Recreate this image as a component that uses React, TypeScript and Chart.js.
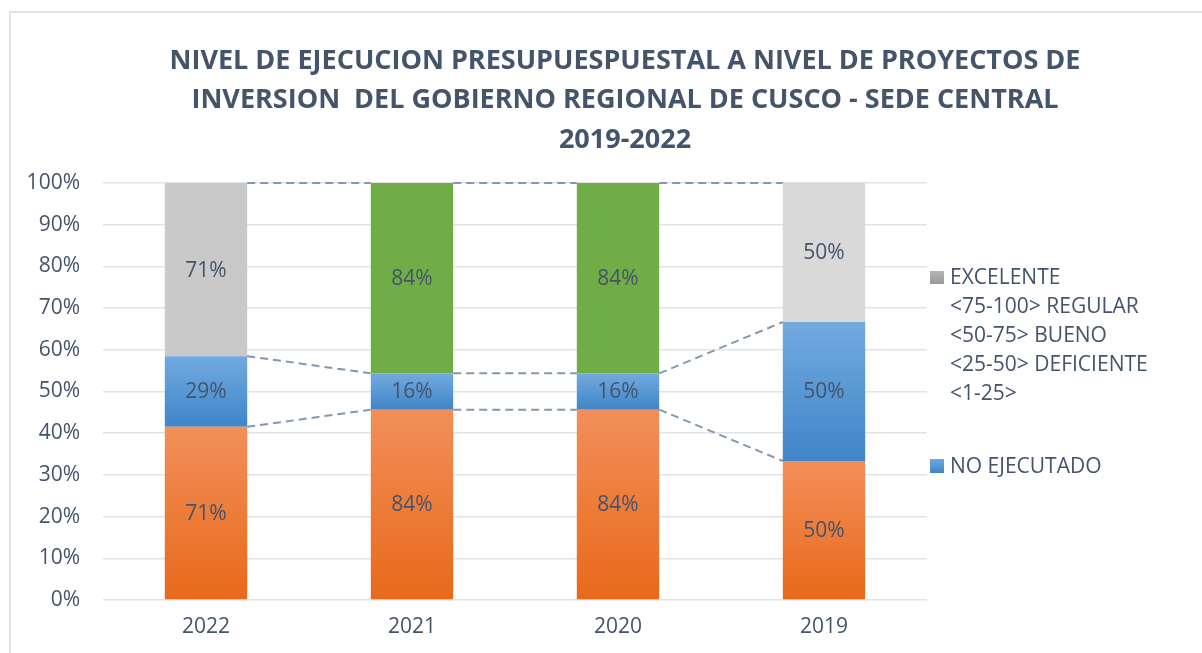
import React, { useEffect, useRef } from "react";
import { Chart, registerables } from "chart.js";

Chart.register(...registerables);

const categories = ["2022", "2021", "2020", "2019"];
const ejecutado = [71, 84, 84, 50];
const noEjecutado = [29, 16, 16, 50];
const calificacion = [71, 84, 84, 50];
const yTicks = [0, 10, 20, 30, 40, 50, 60, 70, 80, 90, 100];

const titleLines = [
  "NIVEL DE EJECUCION PRESUPUESPUESTAL A NIVEL DE PROYECTOS DE",
  "INVERSION  DEL GOBIERNO REGIONAL DE CUSCO - SEDE CENTRAL",
  "2019-2022",
];
const legendLines = ["EXCELENTE", "<75-100> REGULAR", "<50-75> BUENO", "<25-50> DEFICIENTE", "<1-25>"];
const legendNoEjecutado = "NO EJECUTADO";

const rawSeries = [ejecutado, noEjecutado, calificacion];
const totals = categories.map((_, i) => rawSeries.reduce((s, arr) => s + arr[i], 0));
const pctSeries = rawSeries.map((arr) => arr.map((v, i) => (v / totals[i]) * 100));

const TEXT = "#44546A";
const FONT = "'Open Sans'";

const segGradient = (top: string, bottom: string) => (ctx: any) => {
  const chart = ctx.chart;
  if (!chart.chartArea || ctx.type !== "data") return bottom;
  const di = ctx.datasetIndex;
  const i = ctx.dataIndex;
  let start = 0;
  for (let k = 0; k < di; k++) start += pctSeries[k][i];
  const end = start + pctSeries[di][i];
  const yTop = chart.scales.y.getPixelForValue(end);
  const yBot = chart.scales.y.getPixelForValue(start);
  const g = chart.ctx.createLinearGradient(0, yTop, 0, yBot);
  g.addColorStop(0, top);
  g.addColorStop(1, bottom);
  return g;
};

const seriesLinesPlugin = {
  id: "seriesLines",
  afterDatasetsDraw(chart: any) {
    const c = chart.ctx;
    c.save();
    c.strokeStyle = "#8497B0";
    c.lineWidth = 2;
    c.setLineDash([8, 5]);
    chart.data.datasets.forEach((_: any, di: number) => {
      const meta = chart.getDatasetMeta(di);
      for (let i = 0; i < meta.data.length - 1; i++) {
        const a = meta.data[i];
        const b = meta.data[i + 1];
        c.beginPath();
        c.moveTo(a.x + a.width / 2, a.y);
        c.lineTo(b.x - b.width / 2, b.y);
        c.stroke();
      }
    });
    c.restore();
  },
};

const labelsPlugin = {
  id: "segLabels",
  afterDatasetsDraw(chart: any) {
    const c = chart.ctx;
    c.save();
    c.fillStyle = TEXT;
    c.font = `21px ${FONT}`;
    c.textAlign = "center";
    c.textBaseline = "middle";
    chart.data.datasets.forEach((ds: any, di: number) => {
      const meta = chart.getDatasetMeta(di);
      meta.data.forEach((el: any, i: number) => {
        c.fillText(`${rawSeries[di][i]}%`, el.x, (el.y + el.base) / 2 + 1);
      });
    });
    c.restore();
  },
};

const titleLegendPlugin = {
  id: "titleLegend",
  afterDraw(chart: any) {
    const c = chart.ctx;
    c.save();
    c.fillStyle = TEXT;
    c.textAlign = "center";
    c.textBaseline = "alphabetic";
    c.font = `bold 27px ${FONT}`;
    const tb = [69, 108, 148];
    titleLines.forEach((t, k) => c.fillText(t, 625, tb[k]));

    c.textAlign = "left";
    c.font = `21px ${FONT}`;
    const lb = [284, 313, 342, 371, 400];
    legendLines.forEach((t, k) => c.fillText(t, 950, lb[k]));
    c.fillText(legendNoEjecutado, 950, 473);

    const gg = c.createLinearGradient(0, 271, 0, 284);
    gg.addColorStop(0, "#B5B5B5");
    gg.addColorStop(1, "#9A9A9A");
    c.fillStyle = gg;
    c.fillRect(930, 271, 14, 13);
    const bg = c.createLinearGradient(0, 459, 0, 473);
    bg.addColorStop(0, "#6FA8DC");
    bg.addColorStop(1, "#3F85C8");
    c.fillStyle = bg;
    c.fillRect(930, 459, 14, 14);
    c.restore();
  },
};

export default function App() {
  const ref = useRef<HTMLCanvasElement | null>(null);

  useEffect(() => {
    document.body.style.margin = "0";
    const canvas = ref.current;
    if (!canvas) return;
    const chart = new Chart(canvas, {
      type: "bar",
      data: {
        labels: categories,
        datasets: [
          {
            label: "EJECUTADO",
            data: pctSeries[0],
            backgroundColor: segGradient("#F28F5A", "#E8691A"),
            barPercentage: 0.4,
            categoryPercentage: 1,
          },
          {
            label: "NO EJECUTADO",
            data: pctSeries[1],
            backgroundColor: segGradient("#72AAE0", "#3F85C8"),
            barPercentage: 0.4,
            categoryPercentage: 1,
          },
          {
            label: "CALIFICACION",
            data: pctSeries[2],
            backgroundColor: ["#C9C9C9", "#70AD47", "#70AD47", "#D9D9D9"],
            barPercentage: 0.4,
            categoryPercentage: 1,
          },
        ],
      },
      options: {
        animation: false,
        responsive: false,
        events: [],
        layout: { padding: { left: 0, right: 275, top: 183, bottom: 0 } },
        plugins: {
          legend: { display: false },
          title: { display: false },
          tooltip: { enabled: false },
        },
        scales: {
          x: {
            stacked: true,
            grid: { display: false, drawTicks: false },
            border: { display: false },
            ticks: { color: TEXT, font: { family: FONT, size: 21 }, padding: 14 },
            afterFit: (s: any) => {
              s.height = 53;
            },
          },
          y: {
            stacked: true,
            min: 0,
            max: 100,
            afterBuildTicks: (s: any) => {
              s.ticks = yTicks.map((v) => ({ value: v }));
            },
            grid: { color: "#E0E4E9", lineWidth: 1.5, drawTicks: false },
            border: { display: false },
            ticks: {
              color: TEXT,
              font: { family: FONT, size: 21 },
              padding: 23,
              callback: (v: any) => `${v}%`,
            },
            afterFit: (s: any) => {
              s.width = 103;
            },
          },
        },
      },
      plugins: [seriesLinesPlugin, labelsPlugin, titleLegendPlugin],
    });
    return () => chart.destroy();
  }, []);

  return (
    <div style={{ position: "relative", width: 1202, height: 653, overflow: "hidden", background: "#fff" }}>
      <div
        style={{
          position: "absolute",
          left: 9,
          top: 11,
          width: 1400,
          height: 900,
          border: "2px solid #DEE3EA",
          boxSizing: "border-box",
        }}
      />
      <canvas ref={ref} width={1202} height={653} style={{ position: "absolute", left: 0, top: 0 }} />
    </div>
  );
}
